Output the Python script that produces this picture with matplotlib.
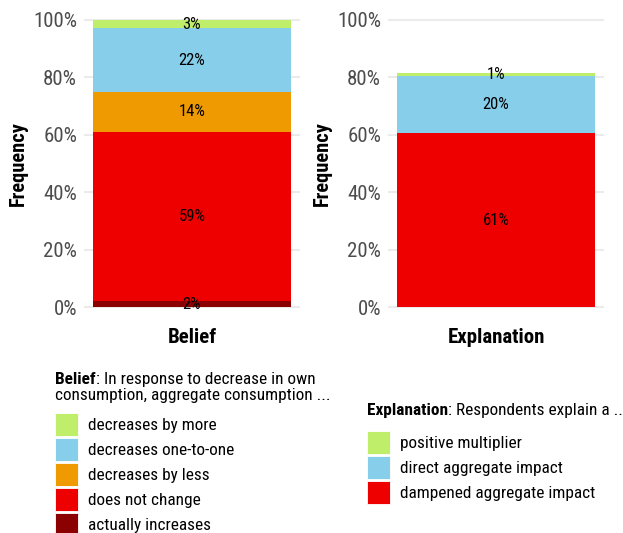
import matplotlib
matplotlib.use("Agg")
import matplotlib.pyplot as plt
from matplotlib import font_manager
from matplotlib.patches import Patch

# ---- data ----
belief_cats = ["actually increases", "does not change", "decreases by less",
               "decreases one-to-one", "decreases by more"]
belief_vals = [2.0, 59.0, 14.0, 22.0, 3.0]
belief_colors = ["#8B0000", "#EE0000", "#EE9A00", "#87CEEB", "#BFEE6B"]

expl_cats = ["dampened aggregate impact", "direct aggregate impact", "positive multiplier"]
expl_vals = [60.6, 19.7, 1.3]
expl_colors = ["#EE0000", "#87CEEB", "#BFEE6B"]

yticks = [0, 20, 40, 60, 80, 100]

W, H = 623, 533
DPI = 100

avail = {f.name for f in font_manager.fontManager.ttflist}
family = next((f for f in ["Roboto Condensed", "Liberation Sans Narrow", "Roboto"] if f in avail), "DejaVu Sans")
plt.rcParams["font.family"] = [family, "DejaVu Sans"]

fig = plt.figure(figsize=(W / DPI, H / DPI), dpi=DPI)


def px_axes(x0, x1, y_top, y_bot):
    return fig.add_axes([x0 / W, 1 - y_bot / H, (x1 - x0) / W, (y_bot - y_top) / H])


def stacked(ax, vals, colors, xlabel):
    bottom = 0.0
    for v, c in zip(vals, colors):
        ax.bar(0, v, bottom=bottom, width=0.9, color=c, zorder=2)
        ax.text(0, bottom + v / 2, f"{round(v):.0f}%", ha="center", va="center",
                fontsize=12, color="black", zorder=3)
        bottom += v
    ax.set_xlim(-0.493, 0.493)
    ax.set_ylim(-1, 101)
    ax.set_yticks(yticks)
    ax.set_yticklabels([f"{t}%" for t in yticks])
    ax.set_xticks([])
    ax.grid(axis="y", color="#EBEBEB", linewidth=1.5, zorder=0)
    for s in ax.spines.values():
        s.set_visible(False)
    ax.tick_params(axis="y", length=0, pad=5, labelsize=15, labelcolor="#4D4D4D")
    ax.set_ylabel("Frequency", fontsize=14.7, fontweight="bold", labelpad=4)
    ax.set_xlabel(xlabel, fontsize=15, fontweight="bold", labelpad=13)


ax1 = px_axes(84, 300, 17, 310)
stacked(ax1, belief_vals, belief_colors, "Belief")
ax2 = px_axes(388, 604, 17, 310)
stacked(ax2, expl_vals, expl_colors, "Explanation")

renderer = fig.canvas.get_renderer()
tfs = 12.4


def mixed_title(x, y, bold, rest):
    t = fig.text(x / W, 1 - y / H, bold, fontsize=tfs, fontweight="bold", va="baseline")
    bb = t.get_window_extent(renderer)
    fig.text(bb.x1 / W, 1 - y / H, rest, fontsize=tfs, va="baseline")


mixed_title(55, 384, "Belief", ": In response to decrease in own")
fig.text(55 / W, 1 - 400 / H, "consumption, aggregate consumption ...", fontsize=tfs, va="baseline")
mixed_title(367, 415, "Explanation", ": Respondents explain a ..")

fs = 12.4
fspx = fs * DPI / 72
key = 23
hh = (key / fspx - 0.245) / 0.65


def legend(cats, colors, x, y):
    handles = [Patch(facecolor=c, edgecolor="white", linewidth=0.6) for c in colors[::-1]]
    fig.legend(handles, cats[::-1], loc="upper left", bbox_to_anchor=(x / W, 1 - y / H),
               frameon=False, borderpad=0, borderaxespad=0, fontsize=fs,
               handlelength=key / fspx, handleheight=hh,
               labelspacing=2 / fspx, handletextpad=10 / fspx)


legend(belief_cats, belief_colors, 55, 413)
legend(expl_cats, expl_colors, 367, 431)

fig.savefig("out.png", dpi=DPI)
